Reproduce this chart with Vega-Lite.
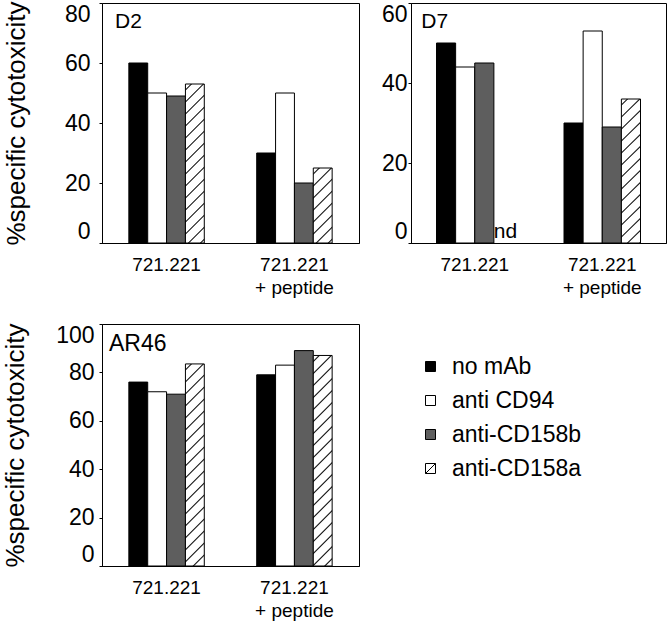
{
"$schema": "https://vega.github.io/schema/vega-lite/v6.json",
"padding": {"left": 2, "top": 0, "right": 2, "bottom": 2},
"background": "white",
"config": {
  "font": "Liberation Sans",
  "view": {"stroke": "black", "strokeWidth": 1},
  "axis": {"domainColor": "black", "tickColor": "black", "labelColor": "black", "titleColor": "black", "grid": false}
},
"datasets": {
  "cyt": [
    {"panel": "D2", "group": "721.221", "mAb": "no mAb", "value": 60},
    {"panel": "D2", "group": "721.221", "mAb": "anti CD94", "value": 50},
    {"panel": "D2", "group": "721.221", "mAb": "anti-CD158b", "value": 49},
    {"panel": "D2", "group": "721.221", "mAb": "anti-CD158a", "value": 53},
    {"panel": "D2", "group": "721.221 + peptide", "mAb": "no mAb", "value": 30},
    {"panel": "D2", "group": "721.221 + peptide", "mAb": "anti CD94", "value": 50},
    {"panel": "D2", "group": "721.221 + peptide", "mAb": "anti-CD158b", "value": 20},
    {"panel": "D2", "group": "721.221 + peptide", "mAb": "anti-CD158a", "value": 25},
    {"panel": "D7", "group": "721.221", "mAb": "no mAb", "value": 50},
    {"panel": "D7", "group": "721.221", "mAb": "anti CD94", "value": 44},
    {"panel": "D7", "group": "721.221", "mAb": "anti-CD158b", "value": 45},
    {"panel": "D7", "group": "721.221 + peptide", "mAb": "no mAb", "value": 30},
    {"panel": "D7", "group": "721.221 + peptide", "mAb": "anti CD94", "value": 53},
    {"panel": "D7", "group": "721.221 + peptide", "mAb": "anti-CD158b", "value": 29},
    {"panel": "D7", "group": "721.221 + peptide", "mAb": "anti-CD158a", "value": 36},
    {"panel": "AR46", "group": "721.221", "mAb": "no mAb", "value": 76},
    {"panel": "AR46", "group": "721.221", "mAb": "anti CD94", "value": 72},
    {"panel": "AR46", "group": "721.221", "mAb": "anti-CD158b", "value": 71},
    {"panel": "AR46", "group": "721.221", "mAb": "anti-CD158a", "value": 83.5},
    {"panel": "AR46", "group": "721.221 + peptide", "mAb": "no mAb", "value": 79},
    {"panel": "AR46", "group": "721.221 + peptide", "mAb": "anti CD94", "value": 83},
    {"panel": "AR46", "group": "721.221 + peptide", "mAb": "anti-CD158b", "value": 89},
    {"panel": "AR46", "group": "721.221 + peptide", "mAb": "anti-CD158a", "value": 87}
  ],
  "nd": [
    {"panel": "D7", "group": "721.221", "mAb": "anti-CD158a", "label": "nd"}
  ],
  "panels": [
    {"panel": "D2", "label": "D2"},
    {"panel": "D7", "label": "D7"},
    {"panel": "AR46", "label": "AR46"}
  ]
},
"columns": 2,
"bounds": "flush",
"spacing": {"row": 81, "column": 52},
"resolve": {"scale": {"fill": "independent", "y": "independent", "x": "independent", "xOffset": "independent"}, "legend": {"fill": "independent"}},
"concat": [
  {
    "width": 257, "height": 240,
    "layer": [
      {
        "data": {"name": "cyt"},
        "transform": [{"filter": "datum.panel === 'D2'"}],
        "mark": {"type": "bar", "stroke": "black", "strokeWidth": 1},
        "encoding": {
          "x": {"field": "group", "type": "nominal", "scale": {"domain": ["721.221", "721.221 + peptide"], "paddingInner": 0.41, "paddingOuter": 0.21},
                "axis": {"title": null, "ticks": false, "labelAngle": 0, "labelPadding": 12, "labelFontSize": 19, "labelLineHeight": 23, "labelExpr": "datum.value === '721.221 + peptide' ? ['721.221', '+ peptide'] : datum.label"}},
          "xOffset": {"field": "mAb", "type": "nominal", "scale": {"domain": ["no mAb", "anti CD94", "anti-CD158b", "anti-CD158a"]}},
          "y": {"field": "value", "type": "quantitative", "scale": {"domain": [0, 80], "nice": false},
                "axis": {"title": "%specific cytotoxicity", "values": [0, 10, 20, 30, 40, 50, 60, 70, 80], "labelExpr": "datum.value % 20 === 0 ? datum.label : ''", "labelFlush": true, "tickSize": 3, "labelPadding": 9, "labelFontSize": 23, "titleFontSize": 26, "titleFontWeight": "normal", "titlePadding": 35}},
          "fill": {"field": "mAb", "type": "nominal", "legend": null,
                   "scale": {"domain": ["no mAb", "anti CD94", "anti-CD158b", "anti-CD158a"], "range": ["black", "white", "#5e5e5e", "white"]},
                   "condition": [
                     {"test": "datum.mAb === 'anti-CD158a' && datum.group === '721.221'", "value": {"gradient": "linear", "x1": 0, "y1": 0, "x2": 0.176, "y2": 1.489, "stops": [{"offset":0.019,"color":"#fff"},{"offset":0.025,"color":"#000"},{"offset":0.031,"color":"#fff"},{"offset":0.069,"color":"#fff"},{"offset":0.075,"color":"#000"},{"offset":0.081,"color":"#fff"},{"offset":0.119,"color":"#fff"},{"offset":0.125,"color":"#000"},{"offset":0.131,"color":"#fff"},{"offset":0.169,"color":"#fff"},{"offset":0.175,"color":"#000"},{"offset":0.181,"color":"#fff"},{"offset":0.219,"color":"#fff"},{"offset":0.225,"color":"#000"},{"offset":0.231,"color":"#fff"},{"offset":0.269,"color":"#fff"},{"offset":0.275,"color":"#000"},{"offset":0.281,"color":"#fff"},{"offset":0.319,"color":"#fff"},{"offset":0.325,"color":"#000"},{"offset":0.331,"color":"#fff"},{"offset":0.369,"color":"#fff"},{"offset":0.375,"color":"#000"},{"offset":0.381,"color":"#fff"},{"offset":0.419,"color":"#fff"},{"offset":0.425,"color":"#000"},{"offset":0.431,"color":"#fff"},{"offset":0.469,"color":"#fff"},{"offset":0.475,"color":"#000"},{"offset":0.481,"color":"#fff"},{"offset":0.519,"color":"#fff"},{"offset":0.525,"color":"#000"},{"offset":0.531,"color":"#fff"},{"offset":0.569,"color":"#fff"},{"offset":0.575,"color":"#000"},{"offset":0.581,"color":"#fff"},{"offset":0.619,"color":"#fff"},{"offset":0.625,"color":"#000"},{"offset":0.631,"color":"#fff"},{"offset":0.669,"color":"#fff"},{"offset":0.675,"color":"#000"},{"offset":0.681,"color":"#fff"},{"offset":0.719,"color":"#fff"},{"offset":0.725,"color":"#000"},{"offset":0.731,"color":"#fff"},{"offset":0.769,"color":"#fff"},{"offset":0.775,"color":"#000"},{"offset":0.781,"color":"#fff"},{"offset":0.819,"color":"#fff"},{"offset":0.825,"color":"#000"},{"offset":0.831,"color":"#fff"},{"offset":0.869,"color":"#fff"},{"offset":0.875,"color":"#000"},{"offset":0.881,"color":"#fff"},{"offset":0.919,"color":"#fff"},{"offset":0.925,"color":"#000"},{"offset":0.931,"color":"#fff"},{"offset":0.969,"color":"#fff"},{"offset":0.975,"color":"#000"},{"offset":0.981,"color":"#fff"}]}},
                     {"test": "datum.mAb === 'anti-CD158a' && datum.group === '721.221 + peptide'", "value": {"gradient": "linear", "x1": 0, "y1": 0, "x2": 0.755, "y2": 3.011, "stops": [{"offset":0.019,"color":"#fff"},{"offset":0.025,"color":"#000"},{"offset":0.031,"color":"#fff"},{"offset":0.069,"color":"#fff"},{"offset":0.075,"color":"#000"},{"offset":0.081,"color":"#fff"},{"offset":0.119,"color":"#fff"},{"offset":0.125,"color":"#000"},{"offset":0.131,"color":"#fff"},{"offset":0.169,"color":"#fff"},{"offset":0.175,"color":"#000"},{"offset":0.181,"color":"#fff"},{"offset":0.219,"color":"#fff"},{"offset":0.225,"color":"#000"},{"offset":0.231,"color":"#fff"},{"offset":0.269,"color":"#fff"},{"offset":0.275,"color":"#000"},{"offset":0.281,"color":"#fff"},{"offset":0.319,"color":"#fff"},{"offset":0.325,"color":"#000"},{"offset":0.331,"color":"#fff"},{"offset":0.369,"color":"#fff"},{"offset":0.375,"color":"#000"},{"offset":0.381,"color":"#fff"},{"offset":0.419,"color":"#fff"},{"offset":0.425,"color":"#000"},{"offset":0.431,"color":"#fff"},{"offset":0.469,"color":"#fff"},{"offset":0.475,"color":"#000"},{"offset":0.481,"color":"#fff"},{"offset":0.519,"color":"#fff"},{"offset":0.525,"color":"#000"},{"offset":0.531,"color":"#fff"},{"offset":0.569,"color":"#fff"},{"offset":0.575,"color":"#000"},{"offset":0.581,"color":"#fff"},{"offset":0.619,"color":"#fff"},{"offset":0.625,"color":"#000"},{"offset":0.631,"color":"#fff"},{"offset":0.669,"color":"#fff"},{"offset":0.675,"color":"#000"},{"offset":0.681,"color":"#fff"},{"offset":0.719,"color":"#fff"},{"offset":0.725,"color":"#000"},{"offset":0.731,"color":"#fff"},{"offset":0.769,"color":"#fff"},{"offset":0.775,"color":"#000"},{"offset":0.781,"color":"#fff"},{"offset":0.819,"color":"#fff"},{"offset":0.825,"color":"#000"},{"offset":0.831,"color":"#fff"},{"offset":0.869,"color":"#fff"},{"offset":0.875,"color":"#000"},{"offset":0.881,"color":"#fff"},{"offset":0.919,"color":"#fff"},{"offset":0.925,"color":"#000"},{"offset":0.931,"color":"#fff"},{"offset":0.969,"color":"#fff"},{"offset":0.975,"color":"#000"},{"offset":0.981,"color":"#fff"}]}}
                   ]}
        }
      },
      {
        "data": {"name": "panels"},
        "transform": [{"filter": "datum.panel === 'D2'"}],
        "mark": {"type": "text", "fontSize": 21, "baseline": "alphabetic", "align": "left", "dx": -51.6, "dy": 25, "color": "black"},
        "encoding": {
          "x": {"datum": "721.221", "type": "nominal"},
          "y": {"datum": 80, "type": "quantitative"},
          "text": {"field": "label"}
        }
      }
    ]
  },
  {
    "width": 255, "height": 240,
    "layer": [
      {
        "data": {"name": "cyt"},
        "transform": [{"filter": "datum.panel === 'D7'"}],
        "mark": {"type": "bar", "stroke": "black", "strokeWidth": 1},
        "encoding": {
          "x": {"field": "group", "type": "nominal", "scale": {"domain": ["721.221", "721.221 + peptide"], "paddingInner": 0.4, "paddingOuter": 0.2},
                "axis": {"title": null, "ticks": false, "labelAngle": 0, "labelPadding": 12, "labelFontSize": 19, "labelLineHeight": 23, "labelExpr": "datum.value === '721.221 + peptide' ? ['721.221', '+ peptide'] : datum.label"}},
          "xOffset": {"field": "mAb", "type": "nominal", "scale": {"domain": ["no mAb", "anti CD94", "anti-CD158b", "anti-CD158a"]}},
          "y": {"field": "value", "type": "quantitative", "scale": {"domain": [0, 60], "nice": false},
                "axis": {"title": null, "values": [0, 5, 10, 15, 20, 25, 30, 35, 40, 45, 50, 55, 60], "labelExpr": "datum.value % 10 === 0 ? datum.label : ''", "labelFlush": true, "tickSize": 3, "labelPadding": 1, "labelFontSize": 23}},
          "fill": {"field": "mAb", "type": "nominal", "legend": null,
                   "scale": {"domain": ["no mAb", "anti CD94", "anti-CD158b", "anti-CD158a"], "range": ["black", "white", "#5e5e5e", "white"]},
                   "condition": [
                     {"test": "datum.mAb === 'anti-CD158a'", "value": {"gradient": "linear", "x1": 0, "y1": 0, "x2": 0.2128, "y2": 1.639, "stops": [{"offset":0.019,"color":"#fff"},{"offset":0.025,"color":"#000"},{"offset":0.031,"color":"#fff"},{"offset":0.069,"color":"#fff"},{"offset":0.075,"color":"#000"},{"offset":0.081,"color":"#fff"},{"offset":0.119,"color":"#fff"},{"offset":0.125,"color":"#000"},{"offset":0.131,"color":"#fff"},{"offset":0.169,"color":"#fff"},{"offset":0.175,"color":"#000"},{"offset":0.181,"color":"#fff"},{"offset":0.219,"color":"#fff"},{"offset":0.225,"color":"#000"},{"offset":0.231,"color":"#fff"},{"offset":0.269,"color":"#fff"},{"offset":0.275,"color":"#000"},{"offset":0.281,"color":"#fff"},{"offset":0.319,"color":"#fff"},{"offset":0.325,"color":"#000"},{"offset":0.331,"color":"#fff"},{"offset":0.369,"color":"#fff"},{"offset":0.375,"color":"#000"},{"offset":0.381,"color":"#fff"},{"offset":0.419,"color":"#fff"},{"offset":0.425,"color":"#000"},{"offset":0.431,"color":"#fff"},{"offset":0.469,"color":"#fff"},{"offset":0.475,"color":"#000"},{"offset":0.481,"color":"#fff"},{"offset":0.519,"color":"#fff"},{"offset":0.525,"color":"#000"},{"offset":0.531,"color":"#fff"},{"offset":0.569,"color":"#fff"},{"offset":0.575,"color":"#000"},{"offset":0.581,"color":"#fff"},{"offset":0.619,"color":"#fff"},{"offset":0.625,"color":"#000"},{"offset":0.631,"color":"#fff"},{"offset":0.669,"color":"#fff"},{"offset":0.675,"color":"#000"},{"offset":0.681,"color":"#fff"},{"offset":0.719,"color":"#fff"},{"offset":0.725,"color":"#000"},{"offset":0.731,"color":"#fff"},{"offset":0.769,"color":"#fff"},{"offset":0.775,"color":"#000"},{"offset":0.781,"color":"#fff"},{"offset":0.819,"color":"#fff"},{"offset":0.825,"color":"#000"},{"offset":0.831,"color":"#fff"},{"offset":0.869,"color":"#fff"},{"offset":0.875,"color":"#000"},{"offset":0.881,"color":"#fff"},{"offset":0.919,"color":"#fff"},{"offset":0.925,"color":"#000"},{"offset":0.931,"color":"#fff"},{"offset":0.969,"color":"#fff"},{"offset":0.975,"color":"#000"},{"offset":0.981,"color":"#fff"}]}}
                   ]}
        }
      },
      {
        "data": {"name": "nd"},
        "mark": {"type": "text", "fontSize": 21, "baseline": "alphabetic", "align": "center", "dx": 2, "dy": -5, "color": "black"},
        "encoding": {
          "x": {"field": "group", "type": "nominal"},
          "xOffset": {"field": "mAb", "type": "nominal"},
          "y": {"datum": 0, "type": "quantitative"},
          "text": {"field": "label"}
        }
      },
      {
        "data": {"name": "panels"},
        "transform": [{"filter": "datum.panel === 'D7'"}],
        "mark": {"type": "text", "fontSize": 21, "baseline": "alphabetic", "align": "left", "dx": -53.5, "dy": 25, "color": "black"},
        "encoding": {
          "x": {"datum": "721.221", "type": "nominal"},
          "y": {"datum": 60, "type": "quantitative"},
          "text": {"field": "label"}
        }
      }
    ]
  },
  {
    "width": 257, "height": 242,
    "layer": [
      {
        "data": {"name": "cyt"},
        "transform": [{"filter": "datum.panel === 'AR46'"}],
        "mark": {"type": "bar", "stroke": "black", "strokeWidth": 1},
        "encoding": {
          "x": {"field": "group", "type": "nominal", "scale": {"domain": ["721.221", "721.221 + peptide"], "paddingInner": 0.41, "paddingOuter": 0.21},
                "axis": {"title": null, "ticks": false, "labelAngle": 0, "labelPadding": 12, "labelFontSize": 19, "labelLineHeight": 23, "labelExpr": "datum.value === '721.221 + peptide' ? ['721.221', '+ peptide'] : datum.label"}},
          "xOffset": {"field": "mAb", "type": "nominal", "scale": {"domain": ["no mAb", "anti CD94", "anti-CD158b", "anti-CD158a"]}},
          "y": {"field": "value", "type": "quantitative", "scale": {"domain": [0, 100], "nice": false},
                "axis": {"title": "%specific cytotoxicity", "values": [0, 10, 20, 30, 40, 50, 60, 70, 80, 90, 100], "labelExpr": "datum.value % 20 === 0 ? datum.label : ''", "labelFlush": true, "tickSize": 3, "labelPadding": 5, "labelFontSize": 23, "titleFontSize": 26, "titleFontWeight": "normal", "titlePadding": 27}},
          "fill": {"field": "mAb", "type": "nominal",
                   "scale": {"domain": ["no mAb", "anti CD94", "anti-CD158b", "anti-CD158a"], "range": ["black", "white", "#5e5e5e", "white"]},
                   "legend": {"orient": "none", "legendX": 317, "legendY": 31, "title": null, "padding": 0, "symbolType": "square", "symbolSize": 100, "symbolStrokeColor": "black", "symbolStrokeWidth": 1, "labelFontSize": 23, "labelOffset": 10, "rowPadding": 10, "labelColor": "black",
                              "encode": {"symbols": {"update": {
                                "stroke": {"value": "black"},
                                "strokeWidth": {"value": 1},
                                "opacity": {"value": 1},
                                "shape": [
                                  {"test": "datum.value === 'anti-CD158a'", "value": "M-1,-1H1V1H-1Z M-1,1L1,-1"},
                                  {"value": "square"}]}}}},
                   "condition": [
                     {"test": "datum.mAb === 'anti-CD158a' && datum.group === '721.221'", "value": {"gradient": "linear", "x1": 0, "y1": 0, "x2": 0.1098, "y2": 1.177, "stops": [{"offset":0.019,"color":"#fff"},{"offset":0.025,"color":"#000"},{"offset":0.031,"color":"#fff"},{"offset":0.069,"color":"#fff"},{"offset":0.075,"color":"#000"},{"offset":0.081,"color":"#fff"},{"offset":0.119,"color":"#fff"},{"offset":0.125,"color":"#000"},{"offset":0.131,"color":"#fff"},{"offset":0.169,"color":"#fff"},{"offset":0.175,"color":"#000"},{"offset":0.181,"color":"#fff"},{"offset":0.219,"color":"#fff"},{"offset":0.225,"color":"#000"},{"offset":0.231,"color":"#fff"},{"offset":0.269,"color":"#fff"},{"offset":0.275,"color":"#000"},{"offset":0.281,"color":"#fff"},{"offset":0.319,"color":"#fff"},{"offset":0.325,"color":"#000"},{"offset":0.331,"color":"#fff"},{"offset":0.369,"color":"#fff"},{"offset":0.375,"color":"#000"},{"offset":0.381,"color":"#fff"},{"offset":0.419,"color":"#fff"},{"offset":0.425,"color":"#000"},{"offset":0.431,"color":"#fff"},{"offset":0.469,"color":"#fff"},{"offset":0.475,"color":"#000"},{"offset":0.481,"color":"#fff"},{"offset":0.519,"color":"#fff"},{"offset":0.525,"color":"#000"},{"offset":0.531,"color":"#fff"},{"offset":0.569,"color":"#fff"},{"offset":0.575,"color":"#000"},{"offset":0.581,"color":"#fff"},{"offset":0.619,"color":"#fff"},{"offset":0.625,"color":"#000"},{"offset":0.631,"color":"#fff"},{"offset":0.669,"color":"#fff"},{"offset":0.675,"color":"#000"},{"offset":0.681,"color":"#fff"},{"offset":0.719,"color":"#fff"},{"offset":0.725,"color":"#000"},{"offset":0.731,"color":"#fff"},{"offset":0.769,"color":"#fff"},{"offset":0.775,"color":"#000"},{"offset":0.781,"color":"#fff"},{"offset":0.819,"color":"#fff"},{"offset":0.825,"color":"#000"},{"offset":0.831,"color":"#fff"},{"offset":0.869,"color":"#fff"},{"offset":0.875,"color":"#000"},{"offset":0.881,"color":"#fff"},{"offset":0.919,"color":"#fff"},{"offset":0.925,"color":"#000"},{"offset":0.931,"color":"#fff"},{"offset":0.969,"color":"#fff"},{"offset":0.975,"color":"#000"},{"offset":0.981,"color":"#fff"}]}},
                     {"test": "datum.mAb === 'anti-CD158a' && datum.group === '721.221 + peptide'", "value": {"gradient": "linear", "x1": 0, "y1": 0, "x2": 0.1013, "y2": 1.131, "stops": [{"offset":0.019,"color":"#fff"},{"offset":0.025,"color":"#000"},{"offset":0.031,"color":"#fff"},{"offset":0.069,"color":"#fff"},{"offset":0.075,"color":"#000"},{"offset":0.081,"color":"#fff"},{"offset":0.119,"color":"#fff"},{"offset":0.125,"color":"#000"},{"offset":0.131,"color":"#fff"},{"offset":0.169,"color":"#fff"},{"offset":0.175,"color":"#000"},{"offset":0.181,"color":"#fff"},{"offset":0.219,"color":"#fff"},{"offset":0.225,"color":"#000"},{"offset":0.231,"color":"#fff"},{"offset":0.269,"color":"#fff"},{"offset":0.275,"color":"#000"},{"offset":0.281,"color":"#fff"},{"offset":0.319,"color":"#fff"},{"offset":0.325,"color":"#000"},{"offset":0.331,"color":"#fff"},{"offset":0.369,"color":"#fff"},{"offset":0.375,"color":"#000"},{"offset":0.381,"color":"#fff"},{"offset":0.419,"color":"#fff"},{"offset":0.425,"color":"#000"},{"offset":0.431,"color":"#fff"},{"offset":0.469,"color":"#fff"},{"offset":0.475,"color":"#000"},{"offset":0.481,"color":"#fff"},{"offset":0.519,"color":"#fff"},{"offset":0.525,"color":"#000"},{"offset":0.531,"color":"#fff"},{"offset":0.569,"color":"#fff"},{"offset":0.575,"color":"#000"},{"offset":0.581,"color":"#fff"},{"offset":0.619,"color":"#fff"},{"offset":0.625,"color":"#000"},{"offset":0.631,"color":"#fff"},{"offset":0.669,"color":"#fff"},{"offset":0.675,"color":"#000"},{"offset":0.681,"color":"#fff"},{"offset":0.719,"color":"#fff"},{"offset":0.725,"color":"#000"},{"offset":0.731,"color":"#fff"},{"offset":0.769,"color":"#fff"},{"offset":0.775,"color":"#000"},{"offset":0.781,"color":"#fff"},{"offset":0.819,"color":"#fff"},{"offset":0.825,"color":"#000"},{"offset":0.831,"color":"#fff"},{"offset":0.869,"color":"#fff"},{"offset":0.875,"color":"#000"},{"offset":0.881,"color":"#fff"},{"offset":0.919,"color":"#fff"},{"offset":0.925,"color":"#000"},{"offset":0.931,"color":"#fff"},{"offset":0.969,"color":"#fff"},{"offset":0.975,"color":"#000"},{"offset":0.981,"color":"#fff"}]}}
                   ]}
        }
      },
      {
        "data": {"name": "panels"},
        "transform": [{"filter": "datum.panel === 'AR46'"}],
        "mark": {"type": "text", "fontSize": 23, "baseline": "alphabetic", "align": "left", "dx": -57.6, "dy": 27, "color": "black"},
        "encoding": {
          "x": {"datum": "721.221", "type": "nominal"},
          "y": {"datum": 100, "type": "quantitative"},
          "text": {"field": "label"}
        }
      }
    ]
  }
]
}
